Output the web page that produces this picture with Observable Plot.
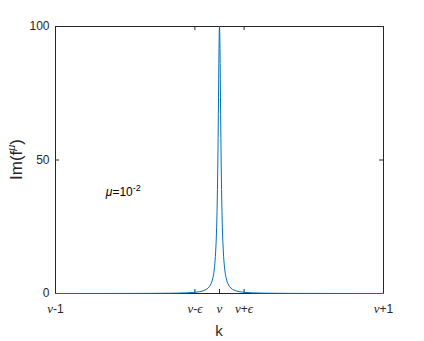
<!DOCTYPE html>
<html>
<head>
<meta charset="utf-8">
<script src="https://cdn.jsdelivr.net/npm/d3@7"></script>
<script src="https://cdn.jsdelivr.net/npm/@observablehq/plot@0.6"></script>
<style>
  html, body { margin: 0; padding: 0; background: #fff; }
  #chart svg { display: block; }
</style>
</head>
<body>
<div id="chart"></div>
<script>
const kValues = [
  -1, -0.8, -0.6, -0.5, -0.4, -0.3, -0.25, -0.2, -0.15, -0.12, -0.1, -0.08, -0.07, -0.06,
  -0.05, -0.045, -0.04, -0.035, -0.03, -0.025, -0.02, -0.0175, -0.015, -0.0125, -0.01,
  -0.0085, -0.007, -0.006, -0.005, -0.004, -0.003, -0.002, -0.001, 0,
  0.001, 0.002, 0.003, 0.004, 0.005, 0.006, 0.007, 0.0085, 0.01, 0.0125, 0.015, 0.0175,
  0.02, 0.025, 0.03, 0.035, 0.04, 0.045, 0.05, 0.06, 0.07, 0.08, 0.1, 0.12, 0.15, 0.2,
  0.25, 0.3, 0.4, 0.5, 0.6, 0.8, 1
];
const imValues = [
  0.01, 0.016, 0.028, 0.04, 0.063, 0.11, 0.16, 0.25, 0.44, 0.69, 0.99, 1.54, 2.0, 2.7,
  3.85, 4.7, 5.9, 7.55, 10.0, 13.8, 20.0, 24.6, 30.8, 39.0, 50.0,
  58.1, 67.1, 73.5, 80.0, 86.2, 91.7, 96.2, 99.0, 100,
  99.0, 96.2, 91.7, 86.2, 80.0, 73.5, 67.1, 58.1, 50.0, 39.0, 30.8, 24.6,
  20.0, 13.8, 10.0, 7.55, 5.9, 4.7, 3.85, 2.7, 2.0, 1.54, 0.99, 0.69, 0.44, 0.25,
  0.16, 0.11, 0.063, 0.04, 0.028, 0.016, 0.01
];
const xTicks = [-1, -0.15, 0, 0.15, 1];
const xTickLabels = ["ν-1", "ν-ϵ", "ν", "ν+ϵ", "ν+1"];
const yTicks = [0, 50, 100];
const xLabel = "k";
const yLabelMain = "Im(f";
const yLabelSup = "μ";
const annotation = { lead: "μ", body: "=10", sup: "-2" };
const annotationPos = { k: -0.69, im: 38 };

const data = kValues.map((k, i) => ({ k, im: imValues[i] }));

const W = 424, H = 341;
const mL = 55, mR = 41, mT = 26, mB = 48;
const innerH = H - mT - mB;
const innerW = W - mL - mR;
const tickLen = 4;
const axisColor = "#262626";

const plot = Plot.plot({
  width: W,
  height: H,
  marginLeft: mL,
  marginRight: mR,
  marginTop: mT,
  marginBottom: mB,
  style: { fontFamily: "'Liberation Sans', Arial, sans-serif", fontSize: "12px", color: axisColor, background: "#fff" },
  x: { domain: [-1, 1] },
  y: { domain: [0, 100] },
  marks: [
    Plot.frame({ stroke: axisColor, strokeWidth: 1 }),
    Plot.tickX(xTicks, { x: d => d, insetTop: innerH - tickLen, stroke: axisColor, strokeWidth: 1 }),
    Plot.tickX(xTicks, { x: d => d, insetBottom: innerH - tickLen, stroke: axisColor, strokeWidth: 1 }),
    Plot.tickY(yTicks, { y: d => d, insetRight: innerW - tickLen, stroke: axisColor, strokeWidth: 1 }),
    Plot.tickY(yTicks, { y: d => d, insetLeft: innerW - tickLen, stroke: axisColor, strokeWidth: 1 }),
    Plot.axisX(xTicks, { tickSize: 0, tickPadding: 11, tickFormat: (d, i) => xTickLabels[i], label: null, fontSize: 12, fill: axisColor }),
    Plot.axisY(yTicks, { tickSize: 0, tickPadding: 6, label: null, fontSize: 12, fill: axisColor }),
    Plot.line(data, { x: "k", y: "im", stroke: "#0072BD", strokeWidth: 1 })
  ]
});

document.getElementById("chart").appendChild(plot);
const svg = d3.select(plot);

// italic nu in x tick labels
svg.selectAll('[aria-label="x-axis tick label"] text').each(function () {
  const t = d3.select(this);
  const s = t.text();
  t.text(null);
  t.append("tspan").attr("font-family", "'Liberation Serif', 'Times New Roman', serif").attr("font-style", "italic").attr("font-size", 13).text(s[0]);
  if (s.length > 1) {
    const rest = s.slice(1).replace("ϵ", "");
    t.append("tspan").text(rest);
    if (s.includes("ϵ")) {
      t.append("tspan").attr("font-family", "'Liberation Serif', 'Times New Roman', serif").attr("font-style", "italic").attr("font-size", 13).text("ϵ");
    }
  }
});

const xs = plot.scale("x"), ys = plot.scale("y");

// x label
svg.append("text")
  .attr("x", xs.apply(0))
  .attr("y", H - 5)
  .attr("text-anchor", "middle")
  .attr("font-family", "'Liberation Sans', Arial, sans-serif")
  .attr("font-size", 15)
  .attr("fill", axisColor)
  .text(xLabel);

// y label with superscript
const yl = svg.append("text")
  .attr("transform", `translate(22,${ys.apply(50)}) rotate(-90)`)
  .attr("text-anchor", "middle")
  .attr("font-family", "'Liberation Sans', Arial, sans-serif")
  .attr("font-size", 17)
  .attr("fill", axisColor);
yl.append("tspan").text(yLabelMain);
yl.append("tspan").attr("font-size", 11).attr("dy", -7).attr("font-style", "italic").text(yLabelSup);
yl.append("tspan").attr("dy", 7).text(")");

// annotation
const an = svg.append("text")
  .attr("x", xs.apply(annotationPos.k))
  .attr("y", ys.apply(annotationPos.im) + 4)
  .attr("text-anchor", "start")
  .attr("font-family", "'Liberation Sans', Arial, sans-serif")
  .attr("font-size", 12)
  .attr("fill", "#000");
an.append("tspan").attr("font-style", "italic").text(annotation.lead);
an.append("tspan").text(annotation.body);
an.append("tspan").attr("font-size", 9).attr("dy", -5).text(annotation.sup);
</script>
</body>
</html>
